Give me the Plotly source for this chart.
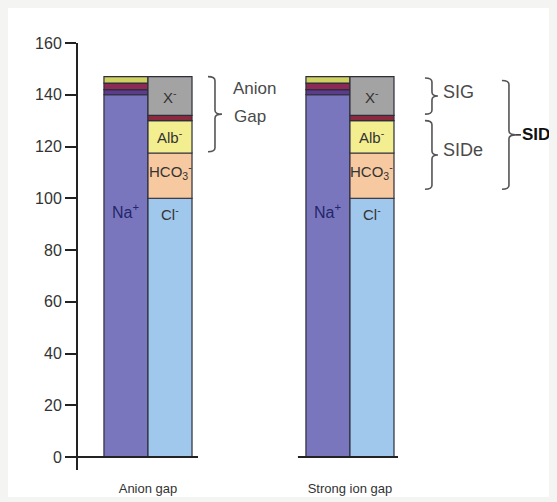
import numpy as np
import plotly.graph_objects as go

# ---- data ----
groups = ["Anion gap", "Strong ion gap"]
cation_names = ["Na+", "K+", "Ca2+", "Mg2+"]
cation_values = [140, 2, 2.5, 2.5]
cation_colors = ["#7a76bd", "#5c3a8c", "#8c2a55", "#cfd160"]
anion_names = ["Cl-", "HCO3-", "Alb-", "Other", "X-"]
anion_values = [100, 17.5, 12.5, 2, 15]
anion_colors = ["#a0c8ec", "#f7c9a0", "#f3ee90", "#8b2a3f", "#a3a3a3"]
anion_labels = ["Cl<sup>-</sup>", "HCO<sub>3</sub><sup>-</sup>", "Alb<sup>-</sup>", "", "X<sup>-</sup>"]
yticks = [0, 20, 40, 60, 80, 100, 120, 140, 160]

FONT = "Liberation Sans, Arial, sans-serif"
PX_X = 202.0      # pixels per x unit (group spacing)
PX_Y = 2.5875     # pixels per y unit
BW = 0.218        # bar width (x units)

cat_base = np.concatenate([[0], np.cumsum(cation_values)[:-1]])
an_base = np.concatenate([[0], np.cumsum(anion_values)[:-1]])
total = float(np.sum(anion_values))

fig = go.Figure()
gx = np.arange(len(groups))
for name, v, b, c in zip(cation_names, cation_values, cat_base, cation_colors):
    fig.add_trace(go.Bar(x=gx, y=[v] * len(gx), base=[b] * len(gx), width=BW, offset=-BW,
                         marker=dict(color=c, line=dict(color="#2e2e3a", width=1.2)),
                         name=name, showlegend=False))
for name, v, b, c in zip(anion_names, anion_values, an_base, anion_colors):
    fig.add_trace(go.Bar(x=gx, y=[v] * len(gx), base=[b] * len(gx), width=BW, offset=0,
                         marker=dict(color=c, line=dict(color="#2e2e3a", width=1.2)),
                         name=name, showlegend=False))

ann = []
# labels inside bars
for g in gx:
    ann.append(dict(x=g - BW / 2, y=95, text="Na<sup>+</sup>", showarrow=False,
                    font=dict(family=FONT, size=16, color="#23276a")))
    for lab, v, b in zip(anion_labels, anion_values, an_base):
        if not lab:
            continue
        yy = 94 if lab.startswith("Cl") else b + v / 2 + (1.5 if lab.startswith("HCO") else 0)
        ann.append(dict(x=g + BW / 2, y=yy, text=lab, showarrow=False,
                        font=dict(family=FONT, size=15, color="#333333")))

shapes = []
# thin gray strip at the bottom of the page
shapes.append(dict(type="rect", xref="paper", yref="paper", x0=-0.2, x1=1.05,
                   y0=-0.2, y1=-(489 - 462) / 427,
                   fillcolor="#f4f4f2", line=dict(width=0), layer="below"))
# baselines
shapes.append(dict(type="line", xref="x", yref="y", x0=-0.3465, x1=0 + BW + 6 / PX_X, y0=0, y1=0,
                   line=dict(color="#222222", width=2)))
shapes.append(dict(type="line", xref="x", yref="y", x0=1 - BW - 8 / PX_X, x1=1 + BW + 4 / PX_X, y0=0, y1=0,
                   line=dict(color="#222222", width=2)))


def brace(xc, y0, y1, hook=7, tip=7):
    hx = hook / PX_X
    tx = tip / PX_X
    dy = 4 / PX_Y
    ym = (y0 + y1) / 2
    return (f"M {xc - hx},{y1} Q {xc},{y1} {xc},{y1 - dy} L {xc},{ym + dy} "
            f"Q {xc},{ym} {xc + tx},{ym} Q {xc},{ym} {xc},{ym - dy} L {xc},{y0 + dy} "
            f"Q {xc},{y0} {xc - hx},{y0}")


bcol = "#555555"
hco3_top = an_base[2]
alb_top = an_base[3]
cl_top = an_base[1]
x_bot = an_base[4]
shapes.append(dict(type="path", xref="x", yref="y", path=brace((215 - 148) / PX_X, hco3_top + 0.5, total),
                   line=dict(color=bcol, width=1.6)))
shapes.append(dict(type="path", xref="x", yref="y", path=brace(1 + (432 - 350) / PX_X, x_bot + 0.5, total - 0.5, tip=6),
                   line=dict(color=bcol, width=1.6)))
shapes.append(dict(type="path", xref="x", yref="y", path=brace(1 + (432 - 350) / PX_X, cl_top + 3.5, alb_top, tip=6),
                   line=dict(color=bcol, width=1.6)))
sid_x = 1 + (509 - 350) / PX_X
shapes.append(dict(type="path", xref="x", yref="y", path=brace(sid_x, cl_top + 3.5, total - 1.5),
                   line=dict(color=bcol, width=1.6)))
sid_mid = (cl_top + 3.5 + total - 1.5) / 2
shapes.append(dict(type="line", xref="x", yref="y", x0=sid_x + 7 / PX_X, x1=sid_x + 12 / PX_X,
                   y0=sid_mid, y1=sid_mid, line=dict(color="#333333", width=1.6)))

ann.append(dict(x=(231 - 148) / PX_X, y=142.5, text="Anion", showarrow=False, xanchor="left",
                font=dict(family=FONT, size=17, color="#4a4a4a")))
ann.append(dict(x=(232 - 148) / PX_X, y=131.5, text="Gap", showarrow=False, xanchor="left",
                font=dict(family=FONT, size=17, color="#4a4a4a")))
ann.append(dict(x=1 + (441 - 350) / PX_X, y=141, text="SIG", showarrow=False, xanchor="left",
                font=dict(family=FONT, size=18, color="#4a4a4a")))
ann.append(dict(x=1 + (441 - 350) / PX_X, y=118.5, text="SIDe", showarrow=False, xanchor="left",
                font=dict(family=FONT, size=18, color="#4a4a4a")))
ann.append(dict(x=sid_x + 11 / PX_X, y=sid_mid, text="<b>SID</b>", showarrow=False, xanchor="left",
                font=dict(family=FONT, size=17, color="#111111")))

fig.update_layout(
    width=549, height=494,
    margin=dict(l=70, r=0, t=35, b=32),
    paper_bgcolor="white", plot_bgcolor="rgba(0,0,0,0)",
    barmode="overlay",
    showlegend=False,
    shapes=shapes,
    annotations=ann,
    xaxis=dict(range=[-0.3465, 2.025], tickvals=list(gx), ticktext=groups, showgrid=False,
               zeroline=False, showline=False, ticks="outside", ticklen=6, tickcolor="rgba(0,0,0,0)",
               tickfont=dict(family=FONT, size=13, color="#333333"), fixedrange=True),
    yaxis=dict(range=[-5, 160], tickvals=yticks, showgrid=False, zeroline=False, showline=True,
               linecolor="#222222", linewidth=2, ticks="outside", ticklen=11, tickwidth=2,
               tickcolor="#222222", tickfont=dict(family=FONT, size=16, color="#333333"),
               fixedrange=True),
)

fig.write_html("out.html", post_script="document.body.style.background='#f4f4f2';")
